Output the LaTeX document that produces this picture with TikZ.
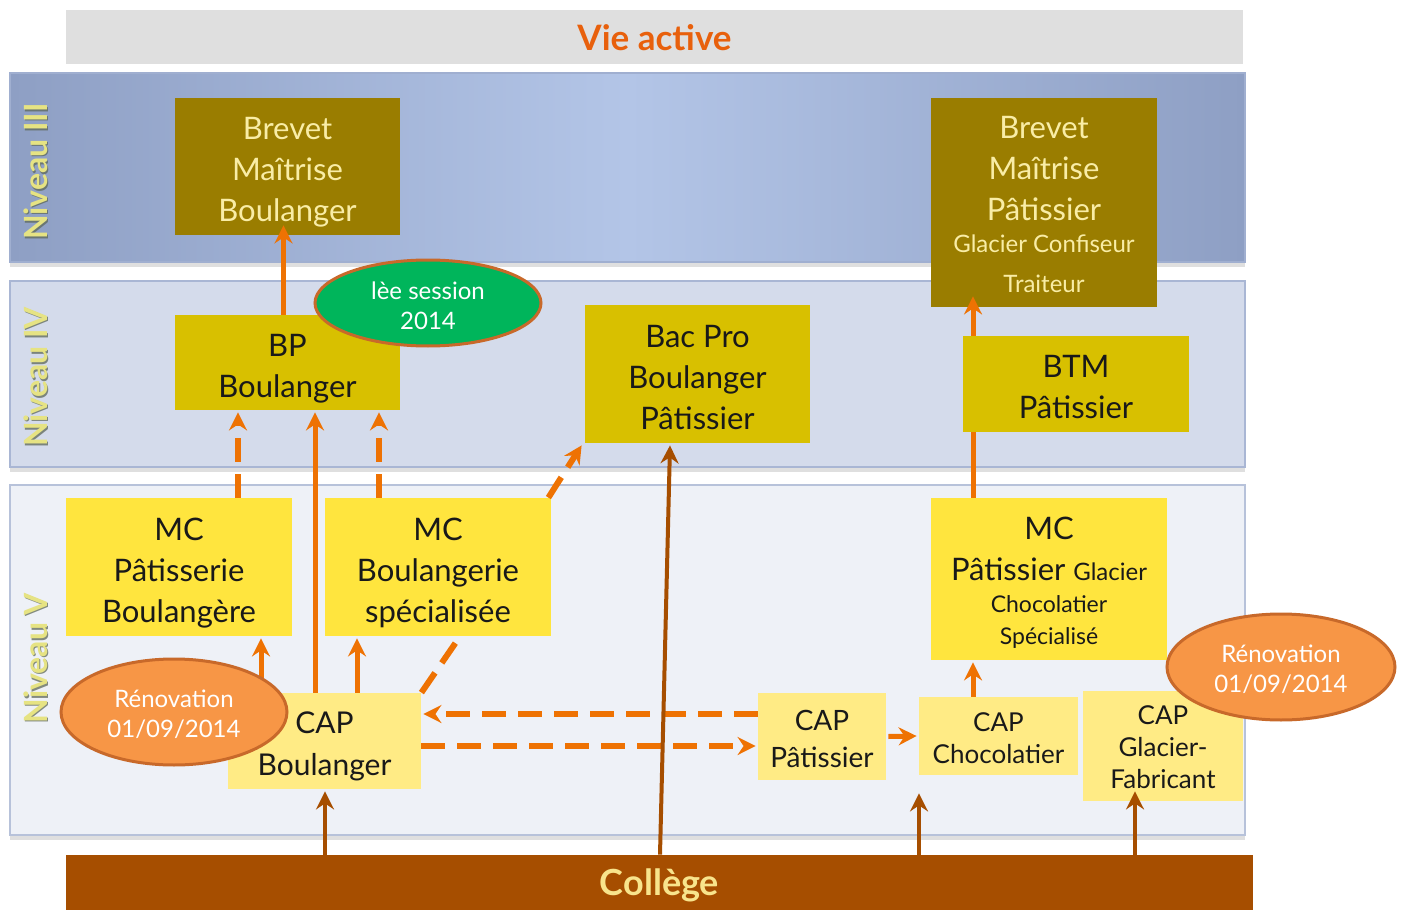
\documentclass[tikz,border=0pt]{standalone}
\usepackage{fontspec}
\setmainfont{Lato}
\usetikzlibrary{calc,arrows.meta,shapes.geometric,shadows}
\definecolor{cGreyBar}{HTML}{DFDFDF}
\definecolor{cVie}{HTML}{E8600C}
\definecolor{cBrownBar}{HTML}{A64E00}
\definecolor{cColText}{HTML}{F8E48C}
\definecolor{cOliveBox}{HTML}{9A7D00}
\definecolor{cOliveText}{HTML}{F9EDA6}
\definecolor{cBPBox}{HTML}{D8C000}
\definecolor{cMCBox}{HTML}{FFE53E}
\definecolor{cCAPBox}{HTML}{FFEB85}
\definecolor{cArrow}{HTML}{EE7203}
\definecolor{cBrownArrow}{HTML}{A64E00}
\definecolor{cGreenEll}{HTML}{00B55B}
\definecolor{cOrangeEll}{HTML}{F79646}
\definecolor{cEllLine}{HTML}{C8692A}
\definecolor{cN3edge}{HTML}{8E9FC4}
\definecolor{cN3mid}{HTML}{B3C5E7}
\definecolor{cN3line}{HTML}{A0AFD0}
\definecolor{cN4fill}{HTML}{D4DBEB}
\definecolor{cN4line}{HTML}{A9B6D4}
\definecolor{cN5fill}{HTML}{EEF1F7}
\definecolor{cN5line}{HTML}{B7C2DA}
\definecolor{cNivText}{HTML}{E6E383}
\definecolor{cNivShade}{HTML}{5E6858}
\begin{document}
\begin{tikzpicture}[x=0.5pt,y=-0.5pt,
  sz/.style 2 args={minimum width=#1*0.5pt, minimum height=#2*0.5pt},
  box/.style={rectangle, inner sep=0pt},
  tx/.style={align=center, inner sep=0pt, text=black!90},
  big/.style={font=\fontsize{15.5}{20.5}\selectfont},
  olivebox/.style={box, fill=cOliveBox},
  bpbox/.style={box, fill=cBPBox},
  mcbox/.style={box, fill=cMCBox},
  capbox/.style={box, fill=cCAPBox},
  ell/.style={ellipse, inner sep=0pt, line width=1.5pt, draw=cEllLine},
  elltx/.style={align=center, inner sep=0pt, text=white, font=\fontsize{12}{15}\selectfont},
  oline/.style={draw=cArrow, line width=2.5pt},
  oarr/.style={oline, -{Stealth[length=9pt, width=9pt, inset=3pt]}},
  odash/.style={draw=cArrow, line width=3pt, dash pattern=on 12pt off 6pt},
  odarr/.style={odash, -{Stealth[length=9pt, width=9pt, inset=3pt]}},
  barr/.style={draw=cBrownArrow, line width=2pt, -{Stealth[length=9pt, width=9pt, inset=3pt]}},
  nivtext/.style={rotate=90, font=\fontsize{16}{18}\bfseries, text=cNivText},
  nivshade/.style={rotate=90, font=\fontsize{16}{18}\bfseries, text=cNivShade, opacity=0.75},
  bandshadow/.style={drop shadow={shadow xshift=0pt, shadow yshift=-2.5pt, opacity=0.25}}
]
\useasboundingbox (0,0) rectangle (1405,910);
\fill[white] (0,0) rectangle (1405,910);

% top and bottom bars
\node[rectangle, sz={1177}{54}, fill=cGreyBar, text=cVie, font=\fontsize{17.5}{19}\bfseries, text depth=0pt] (vie) at (654.5,37) {Vie active};

% bands
\path[bandshadow, draw=cN3line, line width=1pt, left color=cN3edge, right color=cN3edge, middle color=cN3mid] (10,73) rectangle (1245,262);
\path[bandshadow, draw=cN4line, line width=1pt, fill=cN4fill] (10,281) rectangle (1245,467);
\path[bandshadow, draw=cN5line, line width=1pt, fill=cN5fill] (10,485) rectangle (1245,835);

\node[rectangle, sz={1187}{55}, fill=cBrownBar, text=cColText, font=\fontsize{18}{20}\bfseries, text depth=0pt] (col) at (659.5,882.5) {Collège};

% level labels
\node[nivshade] (n3s) at (37,173) {Niveau III};
\node[nivtext] (n3) at (35.5,171.5) {Niveau III};
\node[nivshade] (n4s) at (37,378.5) {Niveau IV};
\node[nivtext] (n4) at (35.5,377) {Niveau IV};
\node[nivshade] (n5s) at (37,659.5) {Niveau V};
\node[nivtext] (n5) at (35.5,658) {Niveau V};

% Niveau III
\node[olivebox, sz={225}{137}] (bmb) at (287.5,166.5) {};
\node[tx, big, text=cOliveText] (bmbT) at ($(bmb)+(0,6)$) {Brevet\\Maîtrise\\Boulanger};
\node[olivebox, sz={226}{209}] (bmp) at (1044,202.5) {};
\node[tx, big, text=cOliveText] (bmpA) at ($(bmp.north)+(0,71)$) {Brevet\\Maîtrise\\Pâtissier};
\node[tx, text=cOliveText, font=\fontsize{12}{14}\selectfont] (bmpB) at ($(bmp.north)+(0,146)$) {Glacier Confiseur};
\node[tx, text=cOliveText, font=\fontsize{12}{14}\selectfont] (bmpC) at ($(bmp.north)+(0,186)$) {Traiteur};

% Niveau IV
\node[bpbox, sz={225}{95}] (bp) at (287.5,362.5) {};
\node[tx, big] (bpT) at ($(bp)+(0,6)$) {BP\\Boulanger};
\node[bpbox, sz={225}{138}] (bac) at (697.5,374) {};
\node[tx, big] (bacT) at ($(bac)+(0,4)$) {Bac Pro\\Boulanger\\Pâtissier};

% Niveau V
\node[mcbox, sz={226}{138}] (mcpb) at (179,567) {};
\node[tx, big] (mcpbT) at ($(mcpb)+(0,6)$) {MC\\Pâtisserie\\Boulangère};
\node[mcbox, sz={226}{138}] (mcbs) at (438,567) {};
\node[tx, big] (mcbsT) at ($(mcbs)+(0,6)$) {MC\\Boulangerie\\spécialisée};
\node[mcbox, sz={236}{162}] (mcps) at (1049,579) {};
\node[tx, big] (mcpsA) at ($(mcps.north)+(0,31)$) {MC};
\node[tx, big] (mcpsB) at ($(mcps.north)+(0,72)$) {Pâtissier {\fontsize{12}{14}\selectfont Glacier}};
\node[tx, font=\fontsize{11.5}{14}\selectfont] (mcpsC) at ($(mcps.north)+(0,107)$) {Chocolatier};
\node[tx, font=\fontsize{11.5}{14}\selectfont] (mcpsD) at ($(mcps.north)+(0,140)$) {Spécialisé};

\node[capbox, sz={193}{96}] (capb) at (324.5,741) {};
\node[tx, font=\fontsize{15}{21}\selectfont] (capbT) at ($(capb)+(0,5)$) {CAP\\Boulanger};
\node[capbox, sz={128}{87}] (capp) at (822,736.5) {};
\node[tx, font=\fontsize{14}{18.5}\selectfont] (cappT) at ($(capp)+(0,2)$) {CAP\\Pâtissier};
\node[capbox, sz={159}{78}] (capc) at (998.5,736) {};
\node[tx, font=\fontsize{13}{16}\selectfont] (capcT) at ($(capc)+(0,2)$) {CAP\\Chocolatier};
\node[capbox, sz={160}{110}] (capg) at (1163,746) {};
\node[tx, font=\fontsize{13}{16}\selectfont] (capgT) at ($(capg)+(0,1)$) {CAP\\Glacier-\\Fabricant};

% line behind BTM box
\draw[oarr] ($(mcps.north)+(-76,0)$) -- ($(bmp.south)+(-71,-11)$);
\node[bpbox, sz={226}{96}] (btm) at (1076,384) {};
\node[tx, big] (btmT) at ($(btm)+(0,3)$) {BTM\\Pâtissier};

% connectors
\draw[oarr] ($(bp.north)+(-4,0)$) -- ($(bmb.south)+(-4,-10)$);
\draw[odarr] ($(mcpb.north)+(59,0)$) -- ($(bp.south)+(-49.5,2)$);
\draw[oarr] ($(capb.north)+(-9.5,0)$) -- ($(bp.south)+(27.5,2)$);
\draw[odarr] ($(mcbs.north)+(-59,0)$) -- ($(bp.south)+(91.5,2)$);
\draw[odarr] ($(mcbs.north east)+(-3,0)$) -- ($(bac.south west)+(-3,2)$);
\draw[oarr] ($(capb.north)+(-63.5,0)$) -- ($(mcpb.south)+(82,2)$);
\draw[oarr] ($(capb.north)+(32.5,0)$) -- ($(mcbs.south)+(-81,2)$);
\draw[odash] (capb.north east) -- ($(mcbs.south)+(22,0)$);
\draw[odarr] ($(capp.west)+(0,-22.5)$) -- ($(capb.east)+(2,-27)$);
\draw[odarr] ($(capb.east)+(0,5)$) -- ($(capp.west)+(-2,9.5)$);
\draw[oarr] ($(capp.east)+(2,0)$) -- ($(capc.west)+(-2,0)$);
\draw[oarr] ($(capc.north)+(-25.5,0)$) -- ($(mcps.south)+(-76,2)$);

\draw[barr] ($(col.north)+(0.5,0)$) -- ($(bac.south)+(-27.5,2)$);
\draw[barr] ($(col.north)+(-334.5,0)$) -- ($(capb.south)+(0.5,2)$);
\draw[barr] ($(col.north)+(259.5,0)$) -- ($(capc.south)+(-79.5,18)$);
\draw[barr] ($(col.north)+(475.5,0)$) -- ($(capg.south)+(-28,-10)$);

% ellipses
\node[ell, fill=cGreenEll, sz={226}{86}] (sess) at (428,303) {};
\node[elltx] (sessT) at ($(sess)+(0,3)$) {lèe session\\2014};
\node[ell, fill=cOrangeEll, sz={226}{106}] (ren1) at (174,712) {};
\node[elltx] (ren1T) at ($(ren1)+(0,2)$) {Rénovation\\01/09/2014};
\node[ell, fill=cOrangeEll, sz={228}{106}] (ren2) at (1281,667) {};
\node[elltx] (ren2T) at ($(ren2)+(0,2)$) {Rénovation\\01/09/2014};
\end{tikzpicture}
\end{document}
